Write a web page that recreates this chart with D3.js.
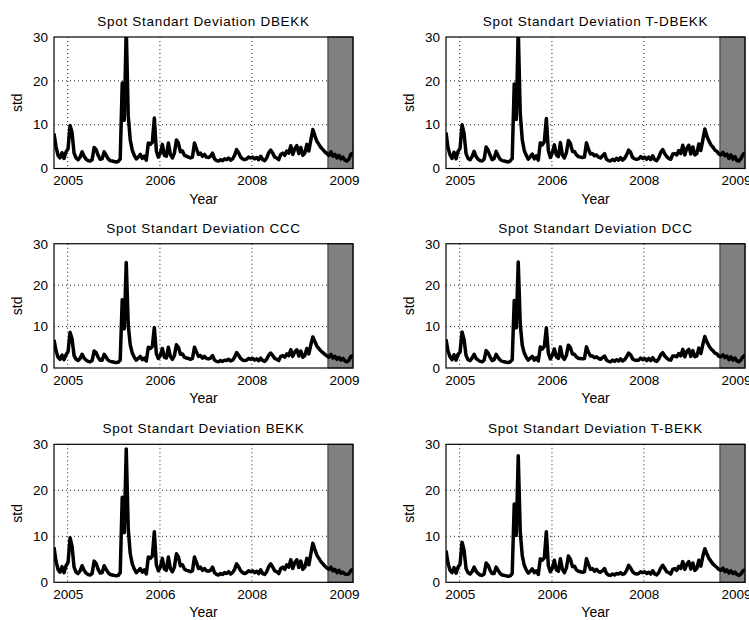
<!DOCTYPE html>
<html>
<head>
<meta charset="utf-8">
<script src="https://cdn.jsdelivr.net/npm/d3@7"></script>
<style>
	body{margin:0;background:#fff;}
	svg{display:block;}
</style>
</head>
<body>
<div id="chart"></div>
<script>
// x ticks (sample index positions and their labels as printed by datetick)
var yearLabels=['2005','2006','2008','2009'];
var yearTickIdx=[6.8,52.8,98.6,144.5];
var shadeFrom=136.5;	// out-of-sample window
var stdTicks=[0,10,20,30];

var titles=['Spot Standart Deviation DBEKK','Spot Standart Deviation T-DBEKK',
	'Spot Standart Deviation CCC','Spot Standart Deviation DCC',
	'Spot Standart Deviation BEKK','Spot Standart Deviation T-BEKK'];

var stdDBEKK=[8.0,5.0,3.0,2.4,3.6,2.3,3.8,4.5,9.8,8.2,
	3.5,2.4,2.0,2.6,3.8,2.8,2.1,1.8,1.7,2.0,
	4.8,4.3,3.0,2.1,2.2,3.8,3.0,2.2,1.8,1.7,
	1.6,1.5,1.6,2.2,19.5,11.0,32.0,12.0,6.5,4.2,
	3.0,2.2,2.6,3.2,2.3,2.8,1.9,5.8,5.5,6.0,
	11.5,4.0,2.6,3.5,5.5,3.0,2.8,5.8,3.2,2.4,
	3.5,6.5,5.8,3.8,4.0,3.0,2.8,2.6,2.4,2.6,
	5.8,4.5,3.2,3.5,2.8,3.2,2.6,2.5,2.8,3.5,
	2.2,1.8,1.7,2.0,1.8,2.2,2.0,2.4,1.9,2.2,
	3.0,4.3,3.6,2.6,2.2,2.0,2.2,2.6,2.4,2.6,
	2.2,2.5,2.0,2.8,2.0,1.8,2.4,3.6,4.2,3.5,
	2.6,2.4,2.0,3.2,3.5,3.0,4.0,3.5,5.2,3.2,
	4.5,5.2,3.4,4.8,3.0,3.5,5.5,4.0,6.5,8.9,
	7.5,6.2,5.5,4.8,4.3,3.8,3.4,3.0,3.8,2.8,
	3.2,2.4,3.0,2.2,2.6,1.9,1.7,2.2,3.3,3.5];

var stdTDBEKK=[8.2,4.8,3.1,2.3,3.7,2.2,3.9,4.6,10.0,8.0,
	3.4,2.3,2.0,2.7,3.9,2.7,2.1,1.8,1.7,2.1,
	4.9,4.2,3.0,2.0,2.3,3.9,2.9,2.1,1.8,1.7,
	1.6,1.5,1.7,2.3,19.3,11.2,32.0,12.5,6.6,4.1,
	3.0,2.1,2.7,3.3,2.2,2.9,1.9,5.9,5.4,6.1,
	11.4,4.1,2.5,3.6,5.4,3.1,2.7,5.9,3.1,2.4,
	3.6,6.4,5.7,3.9,3.9,3.1,2.7,2.6,2.5,2.6,
	5.9,4.4,3.3,3.4,2.9,3.1,2.6,2.4,2.9,3.4,
	2.1,1.8,1.7,2.1,1.8,2.3,1.9,2.5,1.9,2.3,
	3.1,4.2,3.7,2.5,2.2,2.1,2.2,2.7,2.3,2.6,
	2.1,2.6,2.0,2.9,2.0,1.8,2.5,3.7,4.3,3.4,
	2.7,2.3,2.1,3.3,3.4,3.1,4.1,3.4,5.3,3.1,
	4.6,5.3,3.3,4.9,3.1,3.4,5.6,4.1,6.6,9.0,
	7.4,6.3,5.4,4.9,4.2,3.9,3.3,3.1,3.7,2.9,
	3.3,2.3,3.1,2.1,2.7,1.8,1.7,2.3,3.2,3.6];

var stdCCC=[6.8,4.2,2.6,2.1,3.1,2.0,3.2,3.9,8.6,7.0,
	3.0,2.1,1.8,2.3,3.3,2.4,1.9,1.6,1.5,1.8,
	4.1,3.7,2.6,1.9,1.9,3.3,2.6,1.9,1.6,1.5,
	1.4,1.3,1.4,1.9,16.5,9.5,25.5,10.3,5.6,3.6,
	2.6,1.9,2.3,2.8,2.0,2.4,1.7,5.0,4.7,5.2,
	9.8,3.5,2.3,3.0,4.7,2.6,2.4,5.0,2.8,2.1,
	3.0,5.6,5.0,3.3,3.4,2.6,2.4,2.3,2.1,2.3,
	5.0,3.9,2.8,3.0,2.4,2.8,2.3,2.2,2.4,3.0,
	1.9,1.6,1.5,1.8,1.6,1.9,1.8,2.1,1.7,1.9,
	2.6,3.7,3.1,2.3,1.9,1.8,1.9,2.3,2.1,2.3,
	1.9,2.2,1.8,2.4,1.8,1.6,2.1,3.1,3.6,3.0,
	2.3,2.1,1.8,2.8,3.0,2.6,3.4,3.0,4.4,2.8,
	3.9,4.4,2.9,4.1,2.6,3.0,4.7,3.4,5.6,7.5,
	6.4,5.3,4.7,4.1,3.7,3.3,2.9,2.6,3.3,2.4,
	2.8,2.1,2.6,1.9,2.3,1.7,1.5,1.9,2.8,3.0];

var stdDCC=[6.9,4.1,2.7,2.0,3.2,1.9,3.3,3.8,8.7,6.9,
	3.0,2.0,1.8,2.4,3.3,2.3,1.9,1.6,1.5,1.9,
	4.2,3.6,2.6,1.8,2.0,3.3,2.5,1.9,1.6,1.5,
	1.4,1.3,1.5,2.0,16.3,9.7,25.6,10.6,5.5,3.6,
	2.6,1.9,2.4,2.8,1.9,2.5,1.7,5.1,4.6,5.2,
	9.7,3.6,2.2,3.1,4.6,2.7,2.3,5.1,2.7,2.1,
	3.1,5.5,4.9,3.4,3.3,2.7,2.3,2.3,2.2,2.3,
	5.1,3.8,2.9,2.9,2.5,2.7,2.3,2.1,2.5,2.9,
	1.9,1.6,1.5,1.9,1.6,2.0,1.7,2.2,1.7,2.0,
	2.7,3.6,3.2,2.2,1.9,1.9,1.9,2.4,2.0,2.3,
	1.8,2.3,1.8,2.5,1.8,1.6,2.2,3.2,3.7,2.9,
	2.4,2.0,1.9,2.9,2.9,2.7,3.5,2.9,4.5,2.7,
	4.0,4.5,2.8,4.2,2.7,2.9,4.8,3.5,5.7,7.6,
	6.3,5.4,4.6,4.2,3.6,3.4,2.8,2.7,3.2,2.5,
	2.9,2.0,2.7,1.9,2.4,1.7,1.5,2.0,2.7,3.1];

var stdBEKK=[7.6,4.6,2.8,2.2,3.4,2.1,3.6,4.3,9.7,7.8,
	3.3,2.2,1.9,2.5,3.6,2.6,2.0,1.7,1.6,1.9,
	4.6,4.1,2.8,2.0,2.1,3.6,2.8,2.1,1.7,1.6,
	1.5,1.4,1.5,2.1,18.5,10.8,29.0,11.6,6.2,4.0,
	2.9,2.1,2.5,3.0,2.2,2.7,1.8,5.5,5.2,5.7,
	11.0,3.8,2.5,3.3,5.2,2.9,2.6,5.5,3.0,2.3,
	3.3,6.2,5.5,3.6,3.8,2.9,2.6,2.5,2.3,2.5,
	5.5,4.3,3.0,3.3,2.6,3.0,2.5,2.4,2.6,3.3,
	2.1,1.7,1.6,1.9,1.7,2.1,1.9,2.3,1.8,2.1,
	2.8,4.0,3.4,2.5,2.1,1.9,2.1,2.5,2.3,2.5,
	2.1,2.4,1.9,2.7,1.9,1.7,2.3,3.4,4.0,3.3,
	2.5,2.3,1.9,3.0,3.3,2.8,3.8,3.3,4.9,3.0,
	4.3,4.9,3.2,4.6,2.8,3.3,5.2,3.8,6.2,8.5,
	7.1,5.9,5.2,4.5,4.0,3.5,3.1,2.8,3.3,2.5,
	2.8,2.1,2.6,2.0,2.2,1.8,1.7,1.9,2.6,2.8];

var stdTBEKK=[6.9,4.2,2.6,2.1,3.2,2.0,3.3,3.9,8.7,7.0,
	3.0,2.1,1.8,2.3,3.3,2.4,1.9,1.6,1.5,1.8,
	4.2,3.7,2.6,1.9,1.9,3.3,2.6,1.9,1.6,1.5,
	1.4,1.3,1.4,1.9,17.0,10.2,27.5,11.0,5.8,3.7,
	2.7,2.0,2.4,2.9,2.1,2.5,1.7,5.1,4.8,5.3,
	11.0,3.6,2.3,3.1,4.8,2.7,2.4,5.1,2.8,2.1,
	3.1,5.7,5.0,3.4,3.5,2.7,2.4,2.3,2.2,2.3,
	5.1,3.9,2.8,3.0,2.4,2.8,2.3,2.2,2.5,3.0,
	1.9,1.6,1.5,1.8,1.6,1.9,1.8,2.1,1.7,1.9,
	2.6,3.7,3.1,2.3,1.9,1.8,1.9,2.3,2.1,2.3,
	1.9,2.2,1.8,2.5,1.8,1.6,2.1,3.1,3.7,3.0,
	2.3,2.1,1.8,2.8,3.0,2.6,3.5,3.0,4.5,2.8,
	3.9,4.5,2.9,4.2,2.6,3.0,4.8,3.5,5.7,7.3,
	6.2,5.2,4.6,4.0,3.6,3.2,2.8,2.6,3.1,2.3,
	2.7,2.0,2.5,1.9,2.2,1.7,1.5,1.8,2.5,2.7];

var series=[stdDBEKK,stdTDBEKK,stdCCC,stdDCC,stdBEKK,stdTBEKK];

var W=749,H=620,
	FONT='"Liberation Sans", Arial, sans-serif',
	cols=[[54,353],[446,745]],	// left/right of each axes box
	rows=[[37,168.5],[243.75,368],[444.3,582.3]];	// top/bottom

var svg=d3.select('#chart').append('svg')
	.attr('width',W).attr('height',H)
	.attr('font-family',FONT);

function drawPanel(k){
	var c=cols[k%2],r=rows[Math.floor(k/2)],
		d=series[k],
		x=d3.scaleLinear().domain([0,d.length-1]).range([c[0],c[1]]),
		y=d3.scaleLinear().domain([0,30]).range([r[1],r[0]]),
		g=svg.append('g');

	// clip so the spike above 30 is cut at the box
	g.append('clipPath').attr('id','clip'+k)
		.append('rect')
		.attr('x',c[0]).attr('y',r[0])
		.attr('width',c[1]-c[0]).attr('height',r[1]-r[0]);

	// dotted grid
	g.selectAll('.vg').data(yearTickIdx).enter().append('line')
		.attr('x1',function(v){return x(v)}).attr('x2',function(v){return x(v)})
		.attr('y1',r[0]).attr('y2',r[1])
		.attr('stroke','#222').attr('stroke-width',1).attr('stroke-dasharray','1,3');
	g.selectAll('.hg').data([10,20]).enter().append('line')
		.attr('x1',c[0]).attr('x2',c[1])
		.attr('y1',function(v){return y(v)}).attr('y2',function(v){return y(v)})
		.attr('stroke','#222').attr('stroke-width',1).attr('stroke-dasharray','1,3');

	// shaded forecast window
	g.append('rect')
		.attr('x',x(shadeFrom)).attr('y',r[0])
		.attr('width',x(d.length-1)-x(shadeFrom)).attr('height',r[1]-r[0])
		.attr('fill','#808080').attr('stroke','#333').attr('stroke-width',1);

	// series
	g.append('path').datum(d)
		.attr('clip-path','url(#clip'+k+')')
		.attr('fill','none').attr('stroke','#000')
		.attr('stroke-width',3.5).attr('stroke-linejoin','round')
		.attr('d',d3.line().x(function(v,i){return x(i)}).y(function(v){return y(v)}));

	// box
	g.append('rect')
		.attr('x',c[0]).attr('y',r[0])
		.attr('width',c[1]-c[0]).attr('height',r[1]-r[0])
		.attr('fill','none').attr('stroke','#000').attr('stroke-width',1.2);

	// axes
	var ax=g.append('g').attr('transform','translate(0,'+r[1]+')')
		.call(d3.axisBottom(x).tickValues(yearTickIdx)
			.tickFormat(function(v,i){return yearLabels[i]})
			.tickSize(0).tickPadding(7));
	ax.select('.domain').remove();
	ax.selectAll('text').attr('font-size',13.5).attr('font-family',FONT).attr('fill','#000');

	var ay=g.append('g').attr('transform','translate('+c[0]+',0)')
		.call(d3.axisLeft(y).tickValues(stdTicks).tickSize(0).tickPadding(6));
	ay.select('.domain').remove();
	ay.selectAll('text').attr('font-size',13.5).attr('font-family',FONT).attr('fill','#000');

	// labels
	g.append('text').text(titles[k])
		.attr('x',(c[0]+c[1])/2).attr('y',r[0]-11)
		.attr('text-anchor','middle').attr('font-size',13.5)
		.attr('letter-spacing',0.7);
	g.append('text').text('Year')
		.attr('x',(c[0]+c[1])/2).attr('y',r[1]+35)
		.attr('text-anchor','middle').attr('font-size',14);
	g.append('text').text('std')
		.attr('transform','translate('+(c[0]-32)+','+((r[0]+r[1])/2)+') rotate(-90)')
		.attr('text-anchor','middle').attr('font-size',14);
}

for(var k=0;k<6;k++) drawPanel(k);
</script>
</body>
</html>
